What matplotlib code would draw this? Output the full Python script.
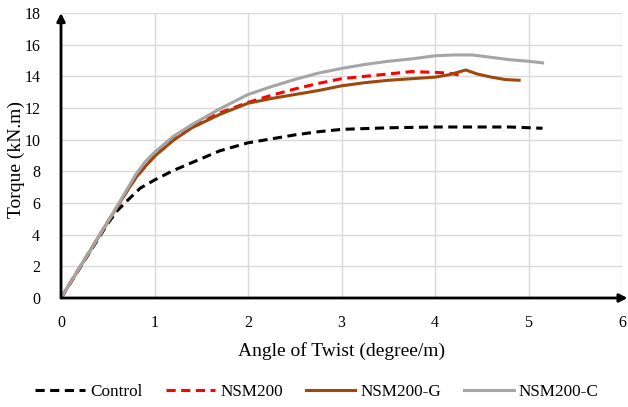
import matplotlib.pyplot as plt

plt.rcParams['font.family'] = ['Liberation Serif', 'DejaVu Serif']

# ---- data ----
ctrl_x = [0, 0.25, 0.5, 0.6, 0.7, 0.85, 1.0, 1.2, 1.4, 1.7, 2.0, 2.25, 2.5, 2.75, 3.0,
          3.5, 4.0, 4.5, 4.8, 5.15]
ctrl_y = [0, 2.35, 4.7, 5.5, 6.1, 6.95, 7.45, 8.05, 8.55, 9.3, 9.8, 10.05, 10.3, 10.5, 10.65,
          10.75, 10.8, 10.8, 10.8, 10.72]

nsm_x = [0, 0.25, 0.5, 0.6, 0.7, 0.8, 0.9, 1.0, 1.2, 1.4, 1.7, 2.0, 2.25, 2.5, 2.75, 3.0,
         3.25, 3.5, 3.75, 4.0, 4.15, 4.29]
nsm_y = [0, 2.4, 4.8, 5.75, 6.7, 7.6, 8.3, 8.95, 10.0, 10.8, 11.7, 12.35, 12.8, 13.2, 13.55, 13.85,
         14.0, 14.15, 14.3, 14.25, 14.2, 14.05]

g_x = [0, 0.25, 0.5, 0.6, 0.7, 0.8, 0.9, 1.0, 1.2, 1.4, 1.7, 2.0, 2.25, 2.5, 2.75, 3.0,
       3.25, 3.5, 3.75, 4.0, 4.15, 4.33, 4.45, 4.6, 4.75, 4.9]
g_y = [0, 2.4, 4.8, 5.75, 6.7, 7.6, 8.3, 8.95, 9.95, 10.75, 11.6, 12.3, 12.6, 12.85, 13.1, 13.4,
       13.6, 13.75, 13.85, 13.95, 14.1, 14.4, 14.15, 13.95, 13.8, 13.75]

c_x = [0, 0.25, 0.5, 0.6, 0.7, 0.8, 0.9, 1.0, 1.2, 1.4, 1.7, 2.0, 2.25, 2.5, 2.75, 3.0,
       3.25, 3.5, 3.75, 4.0, 4.2, 4.4, 4.6, 4.8, 5.0, 5.15]
c_y = [0, 2.4, 4.8, 5.8, 6.8, 7.8, 8.6, 9.2, 10.2, 10.95, 11.95, 12.85, 13.35, 13.8, 14.2, 14.5,
       14.75, 14.95, 15.1, 15.3, 15.35, 15.35, 15.2, 15.05, 14.95, 14.85]

x_ticks = [0, 1, 2, 3, 4, 5, 6]
y_ticks = [0, 2, 4, 6, 8, 10, 12, 14, 16, 18]

fig = plt.figure(figsize=(6.28, 4.07), dpi=100)
ax = fig.add_axes([61 / 628, 1 - 298 / 407, (622 - 61) / 628, (298 - 13) / 407])

dash = (0, (3, 1.8))
ax.plot(ctrl_x, ctrl_y, color='black', lw=2.2, ls=dash, label='Control')
ax.plot(nsm_x, nsm_y, color='#ff0000', lw=2.2, ls=dash, label='NSM200')
ax.plot(g_x, g_y, color='#9e480e', lw=2.2, label='NSM200-G')
ax.plot(c_x, c_y, color='#a5a5a5', lw=2.2, label='NSM200-C')

ax.set_xlim(0, 6)
ax.set_ylim(0, 18)
ax.set_xticks(x_ticks)
ax.set_yticks(y_ticks)
ax.grid(True, color='#d9d9d9', lw=1)
ax.set_axisbelow(True)
ax.tick_params(axis='both', length=0, labelsize=11.5)
ax.tick_params(axis='y', pad=15)
ax.tick_params(axis='x', pad=12)
for s in ax.spines.values():
    s.set_visible(False)

# arrowed axes
arrow = dict(arrowstyle='-|>', lw=2, color='black', mutation_scale=12, shrinkA=0, shrinkB=0)
ax.annotate('', xy=(1.01, 0), xytext=(0, 0), xycoords='axes fraction',
            arrowprops=arrow, annotation_clip=False)
ax.annotate('', xy=(0, 1.0), xytext=(0, 0), xycoords='axes fraction',
            arrowprops=arrow, annotation_clip=False)

ax.set_xlabel('Angle of Twist (degree/m)', fontsize=14, labelpad=8)
fig.text(16 / 628, 1 - 160 / 407, 'Torque (kN.m)', fontsize=14, rotation=90,
         ha='center', va='center')

fig.legend(loc='lower center', ncol=4, frameon=False, fontsize=12.3,
           bbox_to_anchor=(0.505, -0.02), handlelength=2.9, columnspacing=1.35,
           handletextpad=0.3)

fig.savefig('out.png', dpi=100)
